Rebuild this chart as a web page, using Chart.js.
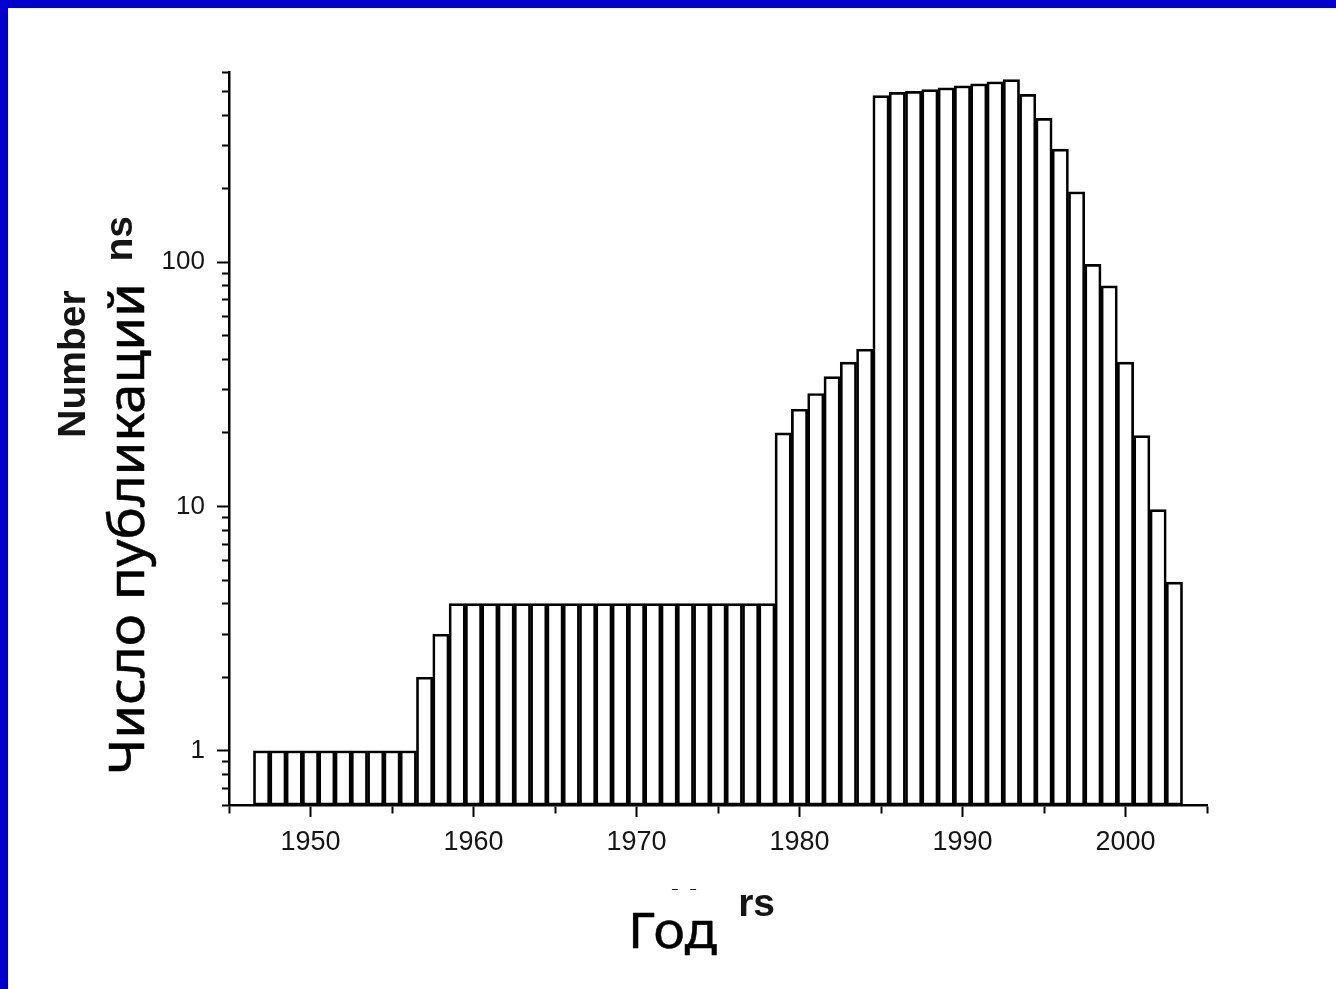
<!DOCTYPE html>
<html>
<head>
<meta charset="utf-8">
<title>Число публикаций по годам</title>
<script src="https://cdn.jsdelivr.net/npm/chart.js@4.4.1/dist/chart.umd.min.js"></script>
<style>
  html, body { margin: 0; padding: 0; background: #fff; overflow: hidden; }
  #wrap { position: relative; width: 1336px; height: 989px; background: #fff; }
  #c { position: absolute; left: 0; top: 0; }
  .frame-top { position: absolute; left: 0; top: 0; width: 1336px; height: 8px; background: #0000cc; }
  .frame-left { position: absolute; left: 0; top: 0; width: 8px; height: 989px; background: #0000cc; }
</style>
</head>
<body>
<div id="wrap">
  <canvas id="c" width="1336" height="989"></canvas>
  <div class="frame-top"></div>
  <div class="frame-left"></div>
</div>
<script>
// Publication year for each bar
const years = [
  1947, 1948, 1949, 1950, 1951, 1952, 1953, 1954, 1955, 1956,
  1957, 1958, 1959, 1960, 1961, 1962, 1963, 1964, 1965, 1966,
  1967, 1968, 1969, 1970, 1971, 1972, 1973, 1974, 1975, 1976,
  1977, 1978, 1979, 1980, 1981, 1982, 1983, 1984, 1985, 1986,
  1987, 1988, 1989, 1990, 1991, 1992, 1993, 1994, 1995, 1996,
  1997, 1998, 1999, 2000, 2001, 2002, 2003
];

// Number of publications in that year
const publications = [
  1, 1, 1, 1, 1, 1, 1, 1, 1, 1,
  2, 3, 4, 4, 4, 4, 4, 4, 4, 4,
  4, 4, 4, 4, 4, 4, 4, 4, 4, 4,
  4, 4, 20, 25, 29, 34, 39, 44, 480, 495,
  500, 508, 517, 527, 537, 547, 558, 486, 388, 290,
  194, 98, 80, 39, 19.5, 9.7, 4.9
];

// Axis ticks
const xTickYears = [1945, 1950, 1955, 1960, 1965, 1970, 1975, 1980, 1985, 1990, 1995, 2000, 2005];
const xLabelYears = [1950, 1960, 1970, 1980, 1990, 2000];
const yTickValues = [
  0.6, 0.7, 0.8, 0.9, 1,
  2, 3, 4, 5, 6, 7, 8, 9, 10,
  20, 30, 40, 50, 60, 70, 80, 90, 100,
  200, 300, 400, 500, 600
];
const yLabelValues = [1, 10, 100];

const inkColor = '#151515';

const tickValue = ctx => (ctx && ctx.tick ? ctx.tick.value : null);

// Axis captions: the original English ones, partly pasted over with Russian ones
const captionPlugin = {
  id: 'captions',
  afterDraw(chart) {
    const ctx = chart.ctx;
    ctx.save();

    // English captions
    ctx.fillStyle = inkColor;
    ctx.font = 'bold 39px "Liberation Sans", Arial, sans-serif';
    ctx.textBaseline = 'alphabetic';

    ctx.save();
    ctx.translate(85, 364);
    ctx.rotate(-Math.PI / 2);
    ctx.textAlign = 'center';
    ctx.fillText('Number', 0, 0);
    ctx.restore();

    ctx.save();
    ctx.translate(132, 216);
    ctx.rotate(-Math.PI / 2);
    ctx.textAlign = 'right';
    ctx.fillText('of publications', 0, 0);
    ctx.restore();

    ctx.textAlign = 'center';
    ctx.fillText('Years', 723, 916);

    // white patches under the Russian captions
    ctx.fillStyle = '#fff';
    ctx.fillRect(97, 262, 66, 530);
    ctx.fillRect(615, 890, 124, 80);

    // Russian captions
    ctx.fillStyle = '#000';
    ctx.strokeStyle = '#000';
    ctx.lineWidth = 0.5;
    ctx.lineJoin = 'round';
    ctx.font = '50px "Noto Sans", "DejaVu Sans", sans-serif';
    ctx.textAlign = 'center';

    const yTitle = 'Число публикаций';
    const yw = ctx.measureText(yTitle).width;
    ctx.save();
    ctx.translate(144, 529);
    ctx.rotate(-Math.PI / 2);
    ctx.scale(492 / yw, 1);
    ctx.fillText(yTitle, 0, 0);
    ctx.strokeText(yTitle, 0, 0);
    ctx.restore();

    const xTitle = 'Год';
    const xw = ctx.measureText(xTitle).width;
    ctx.save();
    ctx.translate(672.5, 948);
    ctx.scale(89 / xw, 1);
    ctx.fillText(xTitle, 0, 0);
    ctx.strokeText(xTitle, 0, 0);
    ctx.restore();

    ctx.restore();
  }
};

new Chart(document.getElementById('c'), {
  type: 'bar',
  data: {
    datasets: [{
      data: years.map((yr, i) => ({ x: yr, y: publications[i] })),
      backgroundColor: '#ffffff',
      borderColor: '#000000',
      borderWidth: 2.7,
      borderSkipped: false,
      barPercentage: 1,
      categoryPercentage: 1
    }]
  },
  options: {
    responsive: false,
    animation: false,
    devicePixelRatio: 1,
    layout: { padding: { left: 0, right: 129, top: 72, bottom: 0 } },
    plugins: {
      legend: { display: false },
      tooltip: { enabled: false }
    },
    scales: {
      x: {
        type: 'linear',
        min: 1945,
        max: 2005,
        offset: false,
        afterBuildTicks(scale) {
          scale.ticks = xTickYears.map(v => ({ value: v }));
        },
        afterFit(scale) { scale.height = 184; },
        ticks: {
          autoSkip: false,
          maxRotation: 0,
          padding: 9,
          color: inkColor,
          font: { family: '"Liberation Sans", Arial, sans-serif', size: 27 },
          callback: v => (xLabelYears.includes(v) ? String(v) : '')
        },
        grid: {
          offset: false,
          drawOnChartArea: false,
          drawTicks: true,
          tickLength: 12,
          tickWidth: 2,
          tickColor: '#000',
          tickBorderDash: ctx => (xLabelYears.includes(tickValue(ctx)) ? [] : [7, 100])
        },
        border: { display: true, color: '#000', width: 2.5 }
      },
      y: {
        type: 'logarithmic',
        min: 0.6,
        max: 600,
        afterBuildTicks(scale) {
          scale.ticks = yTickValues.map(v => ({ value: v }));
        },
        afterFit(scale) { scale.width = 229; },
        ticks: {
          autoSkip: false,
          padding: 12,
          color: inkColor,
          font: { family: '"Liberation Sans", Arial, sans-serif', size: 26 },
          callback: v => (yLabelValues.includes(v) ? String(v) : '')
        },
        grid: {
          drawOnChartArea: false,
          drawTicks: true,
          tickLength: 12,
          tickWidth: 2,
          tickColor: '#000',
          tickBorderDash: ctx => (yLabelValues.includes(tickValue(ctx)) ? [] : [0, 5, 7, 100])
        },
        border: { display: true, color: '#000', width: 2.5 }
      }
    }
  },
  plugins: [captionPlugin]
});
</script>
</body>
</html>
